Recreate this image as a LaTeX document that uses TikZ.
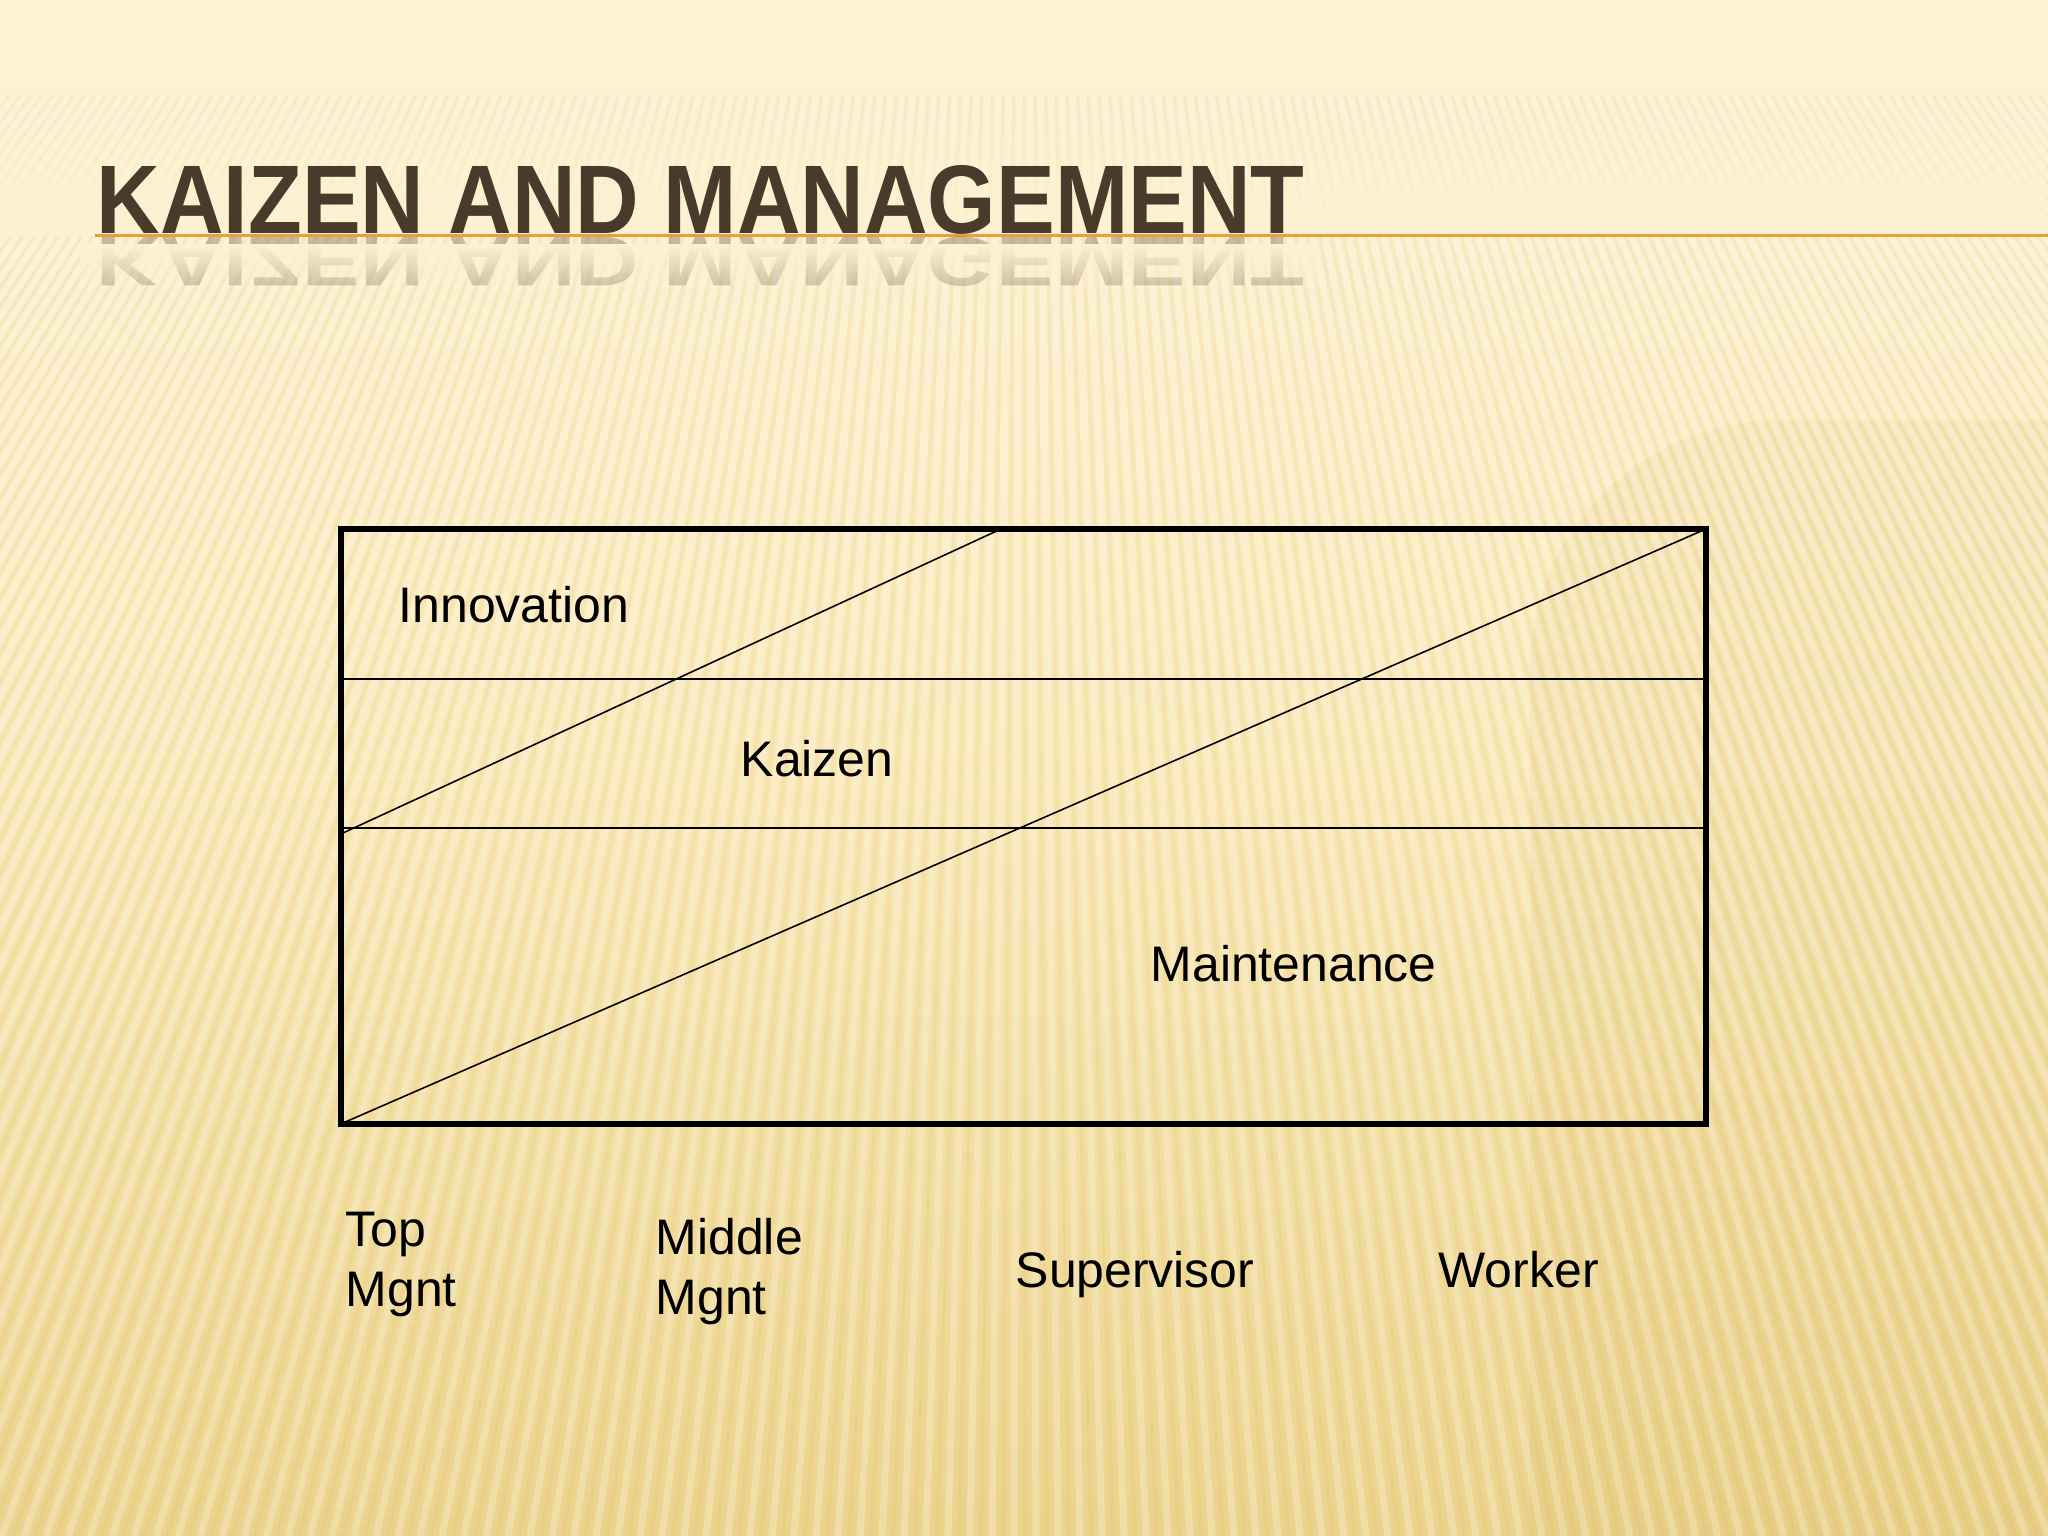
\documentclass[tikz,border=0pt]{standalone}
\usepackage{fontspec}
\setmainfont{Liberation Sans}
\usetikzlibrary{fadings}
\definecolor{bgtop}{HTML}{FDF2D2}
\definecolor{bgmid}{HTML}{F9E8B6}
\definecolor{bgbot}{HTML}{ECD38C}
\definecolor{titlecol}{HTML}{4A3A2B}
\definecolor{rulecol}{HTML}{E5A23C}
\definecolor{disc}{HTML}{C8A040}
\tikzset{
  frameline/.style={line width=1.7pt, black},
  bandline/.style={line width=0.57pt, black},
  diagline/.style={line width=0.45pt, black},
  lbl/.style={anchor=base west, inner sep=0pt, font=\fontsize{14.2pt}{17.07pt}\selectfont, align=left},
  stripe/.style={line width=2pt, white, opacity=0.24},
  stripedark/.style={line width=1.1pt, disc, opacity=0.08},
}
\newcommand{\titletext}{\resizebox{12.07cm}{0.68cm}{\bfseries KAIZEN AND MANAGEMENT}}
\begin{document}
\begin{tikzpicture}[x=0.01cm, y=0.01cm]
\useasboundingbox (0,0) rectangle (2048,1536);
\begin{scope}
\clip (0,0) rectangle (2048,1536);
% background
\shade[top color=bgtop, bottom color=bgbot, middle color=bgmid] (0,0) rectangle (2048,1536);
\fill[disc, opacity=0.09, rounded corners=71pt] (1530,-300) rectangle (2400,1116);
\foreach \xb in {-1120,-1098,...,3160} {
  \pgfmathsetmacro{\xt}{1024+(\xb-1024)*0.4857}
  \pgfmathsetmacro{\xbb}{\xb+11}
  \pgfmathsetmacro{\xtt}{1024+(\xbb-1024)*0.4857}
  \draw[stripe] (\xb,0) -- (\xt,1440);
  \draw[stripedark] (\xbb,0) -- (\xtt,1440);
}
\fill[bgtop] (0,1450) rectangle (2048,1536);
\fill[bgtop, path fading=north] (0,1300) rectangle (2048,1452);
\end{scope}

% title
\draw[rulecol, line width=0.85pt] (95,1300) -- (2048,1300);
\node[anchor=base west, inner sep=0pt, text=titlecol, text opacity=0.3] (titlerefl) at (96,1298) {\scalebox{1}[-0.72]{\titletext}};
\fill[bgtop, path fading=south] (80,1240) rectangle (1320,1292);
\node[anchor=base west, inner sep=0pt, text=titlecol] (title) at (96,1302) {\titletext};

% diagram frame
\coordinate (tl) at (341,1007);
\coordinate (tr) at (1706,1007);
\coordinate (bl) at (341,412);
\coordinate (br) at (1706,412);
\coordinate (l1) at (341,857);
\coordinate (r1) at (1706,857);
\coordinate (l2) at (341,708);
\coordinate (r2) at (1706,708);
\coordinate (d1top) at (1001,1007);
\coordinate (d1bot) at (343,703);
\coordinate (d2bot) at (343,413);

\draw[bandline] (l1) -- (r1);
\draw[bandline] (l2) -- (r2);
\draw[diagline] (d1top) -- (d1bot);
\draw[diagline] (tr) -- (d2bot);
\draw[frameline] (tl) rectangle (br);

\node[lbl] (innov) at (398,913) {Innovation};
\node[lbl] (kaizen) at (740,759) {Kaizen};
\node[lbl] (maint) at (1150,554) {Maintenance};

\node[lbl] (topm) at (345,229) {Top\\Mgnt};
\node[lbl] (midm) at (655,221) {Middle\\Mgnt};
\node[lbl] (sup) at (1015,248) {Supervisor};
\node[lbl] (work) at (1438,248) {Worker};
\end{tikzpicture}
\end{document}
